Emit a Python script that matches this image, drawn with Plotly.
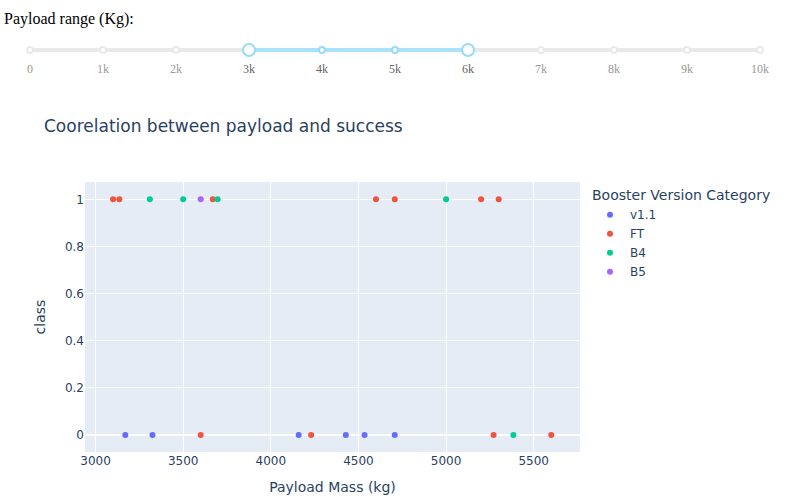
import plotly.graph_objects as go

# ---- data ----
categories = ["v1.1", "FT", "B4", "B5"]
colors = {"v1.1": "#636efa", "FT": "#EF553B", "B4": "#00cc96", "B5": "#ab63fa"}

v11_payload = [3170, 3325, 4159, 4428, 4535, 4707]
v11_class = [0, 0, 0, 0, 0, 0]
ft_payload = [3100, 3136, 3669, 4600, 4707, 5200, 5300, 3600, 4230, 5271, 5600]
ft_class = [1, 1, 1, 1, 1, 1, 1, 0, 0, 0, 0]
b4_payload = [3310, 3500, 3696.65, 5000, 5384]
b4_class = [1, 1, 1, 1, 0]
b5_payload = [3600]
b5_class = [1]

series = {
    "v1.1": (v11_payload, v11_class),
    "FT": (ft_payload, ft_class),
    "B4": (b4_payload, b4_class),
    "B5": (b5_payload, b5_class),
}

slider_marks = [0, 1000, 2000, 3000, 4000, 5000, 6000, 7000, 8000, 9000, 10000]
slider_labels = ["0", "1k", "2k", "3k", "4k", "5k", "6k", "7k", "8k", "9k", "10k"]
slider_min, slider_max = 0, 10000
selected_range = [3000, 6000]

x_range = [2940, 5764]
y_range = [-0.0725, 1.0735]
x_ticks = [3000, 3500, 4000, 4500, 5000, 5500]

FONT = "DejaVu Sans"

# ---- figure ----
fig = go.Figure()

for cat in categories:
    xs, ys = series[cat]
    fig.add_trace(go.Scatter(
        x=xs, y=ys, mode="markers", name=cat,
        marker=dict(color=colors[cat], size=6),
        xaxis="x", yaxis="y",
    ))

# slider (range input) drawn on a second axis pair
rail = "#e9e9e9"
track = "#abe2fb"
handle = "#96dbfa"
fig.add_trace(go.Scatter(x=[slider_min, slider_max], y=[0, 0], mode="lines",
                         line=dict(color=rail, width=4), xaxis="x2", yaxis="y2",
                         showlegend=False, hoverinfo="skip", cliponaxis=False))
fig.add_trace(go.Scatter(x=selected_range, y=[0, 0], mode="lines",
                         line=dict(color=track, width=4), xaxis="x2", yaxis="y2",
                         showlegend=False, hoverinfo="skip", cliponaxis=False))
dot_colors = [handle if selected_range[0] <= m <= selected_range[1] else rail for m in slider_marks]
fig.add_trace(go.Scatter(x=slider_marks, y=[0] * len(slider_marks), mode="markers",
                         marker=dict(size=6, color="white", line=dict(color=dot_colors, width=2)),
                         xaxis="x2", yaxis="y2", showlegend=False, hoverinfo="skip",
                         cliponaxis=False))
fig.add_trace(go.Scatter(x=selected_range, y=[0, 0], mode="markers",
                         marker=dict(size=12, color="white", line=dict(color=handle, width=2)),
                         xaxis="x2", yaxis="y2", showlegend=False, hoverinfo="skip",
                         cliponaxis=False))

tick_text = []
for m, lab in zip(slider_marks, slider_labels):
    if selected_range[0] <= m <= selected_range[1]:
        tick_text.append(f'<span style="color:#666">{lab}</span>')
    else:
        tick_text.append(lab)

W, H = 790, 500
ml, mr, mt, mb = 30, 30, 40, 48
pw = W - ml - mr
ph = H - mt - mb

def px_x(p):
    return (p - ml) / pw

def px_y(p):
    return (H - mb - p) / ph

fig.update_layout(
    width=W, height=H,
    margin=dict(l=ml, r=mr, t=mt, b=mb, autoexpand=False),
    template="plotly",
    font=dict(family=FONT),
    plot_bgcolor="white",
    paper_bgcolor="white",
    title=dict(text="Coorelation between payload and success", x=44 / W, xref="container",
               xanchor="left", y=1 - 126 / H, yanchor="middle", font=dict(size=17, family=FONT)),
    xaxis=dict(domain=[px_x(85), px_x(580)], range=x_range, title=dict(text="Payload Mass (kg)"),
               anchor="y", gridcolor="white", zeroline=False, tickvals=x_ticks, automargin=False),
    yaxis=dict(domain=[0, px_y(182)], range=y_range, title=dict(text="class", standoff=16),
               anchor="x", gridcolor="white", dtick=0.2, zerolinecolor="white", zerolinewidth=2,
               automargin=True),
    xaxis2=dict(domain=[0, 1], range=[slider_min, slider_max], anchor="y2",
                tickvals=slider_marks, ticktext=tick_text, showgrid=False, zeroline=False,
                showline=False, ticks="", ticklabelstandoff=5, automargin=False,
                tickfont=dict(family="Liberation Serif", size=12, color="#999")),
    yaxis2=dict(domain=[px_y(55), px_y(45)], range=[-1, 1], visible=False, anchor="x2",
                automargin=False),
    legend=dict(title=dict(text="Booster Version Category"), x=px_x(590), y=px_y(182),
                xanchor="left", yanchor="top"),
    shapes=[dict(type="rect", xref="x domain", yref="y domain", x0=0, x1=1, y0=0, y1=1,
                 fillcolor="#E5ECF6", line=dict(width=0), layer="below")],
    annotations=[dict(text="Payload range (Kg):", xref="paper", yref="paper",
                      x=px_x(2), y=px_y(19), xanchor="left", yanchor="middle", showarrow=False,
                      font=dict(family="Liberation Serif", size=16, color="black"))],
)

fig.write_html("out.html", config={"displayModeBar": False},
               post_script="document.body.style.margin='0';")
